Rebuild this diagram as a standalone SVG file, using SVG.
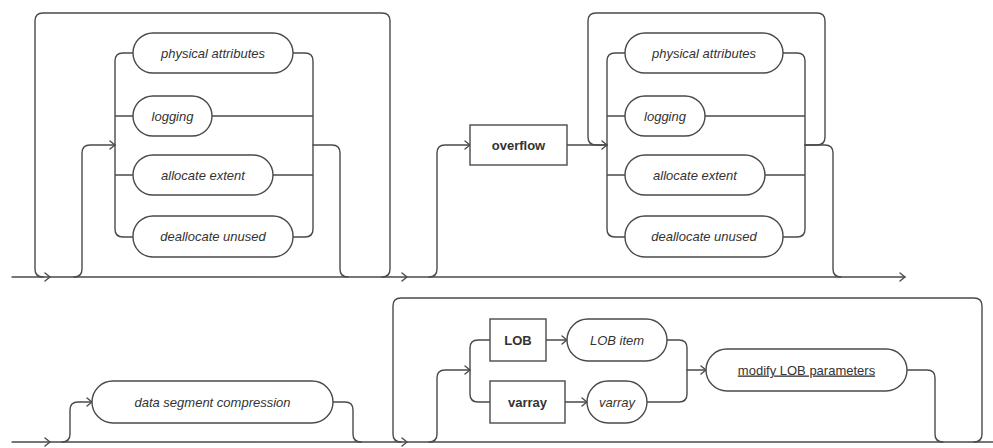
<svg xmlns="http://www.w3.org/2000/svg" width="993" height="448" viewBox="0 0 993 448">
  <style>
    .ln { fill: none; stroke: #4a4a4a; stroke-width: 1.4; stroke-linejoin: round; stroke-linecap: round; }
    .box { fill: #fff; stroke: #4a4a4a; stroke-width: 1.4; }
    .t { font-family: "Liberation Sans", Arial, sans-serif; font-size: 13px; fill: #333; text-anchor: middle; }
    .nt { font-style: italic; }
    .kw { font-weight: bold; }
    .ul { text-decoration: underline; }
  </style>
  <defs>
    <path id="arr" class="ln" d="M-5,-4 L0,0 L-5,4"/>
  </defs>

  <g id="connectors">
    <!-- first row: main line -->
    <path class="ln" d="M12,277 H905"/>
    <!-- repeat loop around the first choice -->
    <path class="ln" d="M382,277 Q390,277 390,269 V21 Q390,13 382,13 H43 Q35,13 35,21 V269 Q35,277 43,277"/>
    <!-- optional branch into the first choice -->
    <path class="ln" d="M74,277 Q82,277 82,269 V153 Q82,145 90,145 H115"/>
    <path class="ln" d="M133,53 H123 Q115,53 115,61 V229 Q115,237 123,237 H133 M115,116 H133 M115,175 H133"/>
    <path class="ln" d="M293,53 H305 Q313,53 313,61 V229 Q313,237 305,237 H293 M212,116 H313 M273,175 H313"/>
    <path class="ln" d="M313,145 H332 Q340,145 340,153 V269 Q340,277 348,277"/>

    <!-- overflow branch -->
    <path class="ln" d="M429,277 Q437,277 437,269 V153 Q437,145 445,145 H470"/>
    <path class="ln" d="M567,145 H607"/>
    <path class="ln" d="M805,145 H817 Q825,145 825,137 V21 Q825,13 817,13 H596 Q588,13 588,21 V137 Q588,145 596,145 H607"/>
    <path class="ln" d="M625,53 H615 Q607,53 607,61 V229 Q607,237 615,237 H625 M607,116 H625 M607,175 H625"/>
    <path class="ln" d="M783,53 H797 Q805,53 805,61 V229 Q805,237 797,237 H783 M705,116 H805 M765,175 H805"/>
    <path class="ln" d="M805,145 H825 Q833,145 833,153 V269 Q833,277 841,277"/>

    <!-- second row: main line -->
    <path class="ln" d="M12,442 H993"/>
    <path class="ln" d="M62,442 Q70,442 70,434 V410 Q70,402 78,402 H92"/>
    <path class="ln" d="M333,402 H345 Q353,402 353,410 V434 Q353,442 361,442"/>

    <!-- LOB / varray loop -->
    <path class="ln" d="M974,442 Q982,442 982,434 V306 Q982,298 974,298 H401 Q393,298 393,306 V434 Q393,442 401,442"/>
    <path class="ln" d="M429,442 Q437,442 437,434 V378 Q437,370 445,370 H470"/>
    <path class="ln" d="M490,340 H478 Q470,340 470,348 V394 Q470,402 478,402 H490"/>
    <path class="ln" d="M546,340 H567"/>
    <path class="ln" d="M565,402 H587"/>
    <path class="ln" d="M667,340 H679 Q687,340 687,348 V394 Q687,402 679,402 H647"/>
    <path class="ln" d="M687,370 H706"/>
    <path class="ln" d="M907,370 H927 Q935,370 935,378 V434 Q935,442 943,442"/>

    <!-- arrowheads -->
    <use href="#arr" x="50" y="277"/>
    <use href="#arr" x="115" y="145"/>
    <use href="#arr" x="407" y="277"/>
    <use href="#arr" x="470" y="145"/>
    <use href="#arr" x="607" y="145"/>
    <use href="#arr" x="905" y="277"/>
    <use href="#arr" x="50" y="442"/>
    <use href="#arr" x="92" y="402"/>
    <use href="#arr" x="407" y="442"/>
    <use href="#arr" x="470" y="370"/>
    <use href="#arr" x="567" y="340"/>
    <use href="#arr" x="587" y="402"/>
    <use href="#arr" x="706" y="370"/>
  </g>

  <!-- first choice group -->
  <g id="physical-attributes-1">
    <rect class="box" x="133" y="33" width="160" height="40" rx="20"/>
    <text class="t nt" x="213" y="57.5">physical attributes</text>
  </g>
  <g id="logging-1">
    <rect class="box" x="133" y="96" width="79" height="40" rx="20"/>
    <text class="t nt" x="172.5" y="120.5">logging</text>
  </g>
  <g id="allocate-extent-1">
    <rect class="box" x="133" y="155" width="140" height="40" rx="20"/>
    <text class="t nt" x="203" y="179.5">allocate extent</text>
  </g>
  <g id="deallocate-unused-1">
    <rect class="box" x="133" y="216" width="160" height="41" rx="20"/>
    <text class="t nt" x="213" y="241">deallocate unused</text>
  </g>

  <!-- overflow and second choice group -->
  <g id="overflow">
    <rect class="box" x="470" y="125" width="97" height="40"/>
    <text class="t kw" x="518.5" y="149.5">overflow</text>
  </g>
  <g id="physical-attributes-2">
    <rect class="box" x="625" y="33" width="158" height="40" rx="20"/>
    <text class="t nt" x="704" y="57.5">physical attributes</text>
  </g>
  <g id="logging-2">
    <rect class="box" x="625" y="96" width="80" height="40" rx="20"/>
    <text class="t nt" x="665" y="120.5">logging</text>
  </g>
  <g id="allocate-extent-2">
    <rect class="box" x="625" y="155" width="140" height="40" rx="20"/>
    <text class="t nt" x="695" y="179.5">allocate extent</text>
  </g>
  <g id="deallocate-unused-2">
    <rect class="box" x="625" y="216" width="158" height="41" rx="20"/>
    <text class="t nt" x="704" y="241">deallocate unused</text>
  </g>

  <!-- second row -->
  <g id="data-segment-compression">
    <rect class="box" x="92" y="381" width="241" height="42" rx="21"/>
    <text class="t nt" x="212.5" y="406.5">data segment compression</text>
  </g>
  <g id="lob">
    <rect class="box" x="490" y="319" width="56" height="42"/>
    <text class="t kw" x="518" y="344.5">LOB</text>
  </g>
  <g id="lob-item">
    <rect class="box" x="567" y="319" width="100" height="42" rx="21"/>
    <text class="t nt" x="617" y="344.5">LOB item</text>
  </g>
  <g id="varray-kw">
    <rect class="box" x="490" y="381" width="75" height="42"/>
    <text class="t kw" x="527.5" y="406.5">varray</text>
  </g>
  <g id="varray-item">
    <rect class="box" x="587" y="381" width="60" height="42" rx="21"/>
    <text class="t nt" x="617" y="406.5">varray</text>
  </g>
  <g id="modify-lob-parameters">
    <rect class="box" x="706" y="349" width="201" height="42" rx="21"/>
    <text class="t ul" x="806.5" y="374.5">modify LOB parameters</text>
  </g>
</svg>
